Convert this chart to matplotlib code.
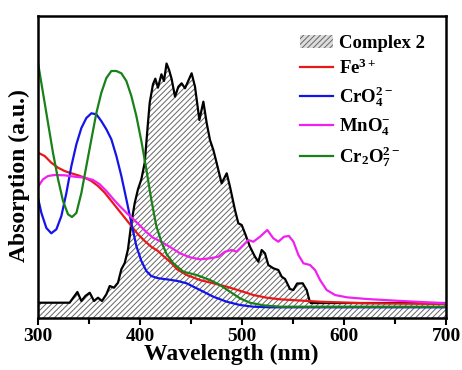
import matplotlib
matplotlib.use("Agg")
import matplotlib.pyplot as plt

plt.rcParams['font.family'] = ['Liberation Serif', 'DejaVu Serif']
plt.rcParams['font.weight'] = 'bold'
plt.rcParams['mathtext.fontset'] = 'custom'
plt.rcParams['mathtext.rm'] = 'Liberation Serif:bold'
plt.rcParams['mathtext.it'] = 'Liberation Serif:bold'
plt.rcParams['mathtext.bf'] = 'Liberation Serif:bold'
plt.rcParams['hatch.linewidth'] = 0.7

# Complex 2
c2_x = [300, 331, 334.3, 338.6, 342.5, 346.4, 350.7, 354.9, 358.8, 362.7, 367, 370.3, 374.5, 378.4,
        381.7, 385, 388.2, 391.5, 394.8, 398, 401.3, 404.6, 406.2, 407.8, 409.5, 412.7, 415, 417.6,
        421, 423.5, 426, 428.5, 431, 434.3, 437.6, 440.8, 444.1, 450.6, 453.9, 458.2, 462.1, 465.4,
        468.6, 471.9, 475.2, 480, 485, 488.2, 493.1, 496.4, 499.7, 502.9, 507.8, 512.7, 516, 519.3,
        522.5, 525.8, 530.7, 535.6, 538.9, 542.2, 547, 550.3, 554, 559.5, 563.4, 566, 567.4, 700]
c2_y = [15.3, 15.3, 20, 26, 17, 22, 25.3, 17, 20.3, 17, 23.7, 32, 30.3, 35.3,
        48.7, 55, 68.7, 95, 115, 128.7, 138.7, 155.3, 175.3, 195.3, 215.3, 233.7, 239.3, 230.3,
        243.7, 237, 254.5, 248, 239, 221.3, 231.3, 234.7, 229.7, 244.7, 231.3, 198, 216.3, 194.7,
        178, 168, 154.7, 134.7, 144.7, 131.3, 108, 94.7, 93, 84.7, 71.3, 61.3, 56.3, 68,
        64.7, 53, 49.7, 48, 41.3, 39, 29, 28, 34.5, 34.7, 28, 18, 15, 15]

fe_x = [300, 306.5, 313, 319.6, 326, 332.7, 339.2, 345.8, 352.3, 358.8, 365.4, 371.9, 378.4, 385,
        391.5, 398, 404.6, 411, 417.6, 424, 430.7, 436, 445.7, 458.8, 471.9, 485, 498, 511.1, 524.2,
        537.3, 556.9, 576.5, 619, 700]
fe_y = [165.3, 162, 155.3, 150.3, 147, 144.7, 142.7, 140.3, 137, 132, 125.3, 117, 108.7, 100.3,
        92, 83.7, 77, 71.3, 67, 61, 55, 49, 43, 38, 34.7, 31.3, 27.3, 23, 20.3,
        18.7, 17.5, 16.3, 14.8, 14]

cro4_x = [300, 303.3, 308.2, 313, 318, 322.9, 327.8, 332.7, 337.6, 342.5, 347.4, 352.3, 357.2, 362,
          367, 371.9, 376.8, 381.7, 386.6, 391.5, 396.4, 401.3, 406.2, 411, 417.6, 427.5, 437, 445.7,
          458.8, 471.9, 485, 498, 511.1, 527.5, 700]
cro4_y = [120, 105, 90, 84.7, 88.7, 102, 125, 152, 173.7, 190, 200, 204.7, 203.7, 197,
          188.7, 178.7, 162, 142, 118.7, 95, 72, 57, 47, 42, 39.8, 38.5, 37, 34.7,
          28, 21.3, 16.3, 13, 11.3, 10.7, 10.7]

mno4_x = [300, 304.9, 309.8, 316.3, 326, 336, 345.8, 354, 360.5, 367, 373.5, 380, 386.6, 393, 399.7,
          406.2, 412.7, 419.5, 429.4, 439.2, 449, 458.8, 468.6, 476.8, 483.3, 489.9, 494.8, 499.7,
          506.2, 511.1, 517.6, 524.8, 530.7, 535.6, 541.2, 546, 550.4, 555.3, 560.2, 566.7, 571.6,
          576.5, 583, 591.2, 602.7, 622.3, 651.7, 681, 700]
mno4_y = [131.3, 138.7, 142, 143, 142.7, 141.3, 140.3, 138, 133.7, 127, 119.3, 112, 105.3, 99.3, 92.7,
          86, 80.3, 77, 71, 64.7, 60.7, 58.7, 59.7, 61.3, 66.3, 68, 66.3, 71.3,
          78, 76.3, 81.3, 88, 79.7, 76.3, 81.3, 82, 76.3, 63, 54.7, 53, 48,
          38, 28, 23, 20.7, 19, 17.3, 15.7, 14.7]

cr2o7_x = [300, 304.9, 309.8, 314.7, 319.6, 324.5, 329.4, 333.3, 337.6, 342.5, 347.4, 352.3, 357.2,
           362, 367, 371.9, 376.8, 381.7, 386.6, 391.5, 396.4, 401.3, 406.2, 411, 416, 421, 426,
           432.7, 442.5, 455.5, 468.6, 478.4, 488.2, 498, 507.8, 520.9, 537.3, 700]
cr2o7_y = [255, 225, 195, 165, 139, 117, 103.7, 101, 105, 125, 152, 178.7, 205,
           225, 240, 247, 247, 244.7, 237, 222, 202, 177, 148.7, 118.7, 92, 76, 64,
           54.7, 46.3, 43, 38, 33, 26.3, 19.7, 15.3, 12.7, 11.3, 11.3]

labels = ['Complex 2', r'Fe$^{3+}$', r'CrO$_4^{2-}$', r'MnO$_4^{-}$', r'Cr$_2$O$_7^{2-}$']
colors = ['black', '#e81818', '#1414e8', '#f020f0', '#1a801a']
xticks = [300, 400, 500, 600, 700]
xminor = [350, 450, 550, 650]

fig = plt.figure(figsize=(4.62, 3.70), dpi=100)
ax = fig.add_axes([0.0823, 0.1405, 0.8831, 0.8163])

ax.fill_between(c2_x, 0, c2_y, facecolor='white', edgecolor='#666666', hatch='//////',
                linewidth=0, label=labels[0])
ax.plot(c2_x, c2_y, color=colors[0], lw=1.6)
ax.plot(fe_x, fe_y, color=colors[1], lw=1.6, label=labels[1])
ax.plot(cro4_x, cro4_y, color=colors[2], lw=1.6, label=labels[2])
ax.plot(mno4_x, mno4_y, color=colors[3], lw=1.6, label=labels[3])
ax.plot(cr2o7_x, cr2o7_y, color=colors[4], lw=1.6, label=labels[4])

ax.set_xlim(300, 700)
ax.set_ylim(0, 302)
ax.set_xticks(xticks)
ax.set_xticks(xminor, minor=True)
ax.set_yticks([])
ax.tick_params(axis='x', which='major', direction='out', length=5, width=1.5, labelsize=14, pad=2)
ax.tick_params(axis='x', which='minor', direction='out', length=4, width=1.5)
for lab in ax.get_xticklabels():
    lab.set_fontweight('bold')
for s in ax.spines.values():
    s.set_linewidth(1.8)

ax.set_xlabel('Wavelength (nm)', fontsize=17, fontweight='bold')
ax.xaxis.set_label_coords(0.474, -0.085)
ax.set_ylabel('Absorption (a.u.)', fontsize=17, fontweight='bold')
ax.yaxis.set_label_coords(-0.02, 0.47)

handles, labs = ax.get_legend_handles_labels()
leg = ax.legend(handles, labs, loc='upper right', bbox_to_anchor=(0.975, 0.975), frameon=False,
                prop={'family': 'Liberation Serif', 'weight': 'bold', 'size': 13.5},
                handlelength=1.75, handletextpad=0.3, labelspacing=0.36, borderaxespad=0.2)
leg.legend_handles[0].set_edgecolor('#666666')
leg.legend_handles[0].set_facecolor('#dddddd')

fig.savefig('out.png', dpi=100)
